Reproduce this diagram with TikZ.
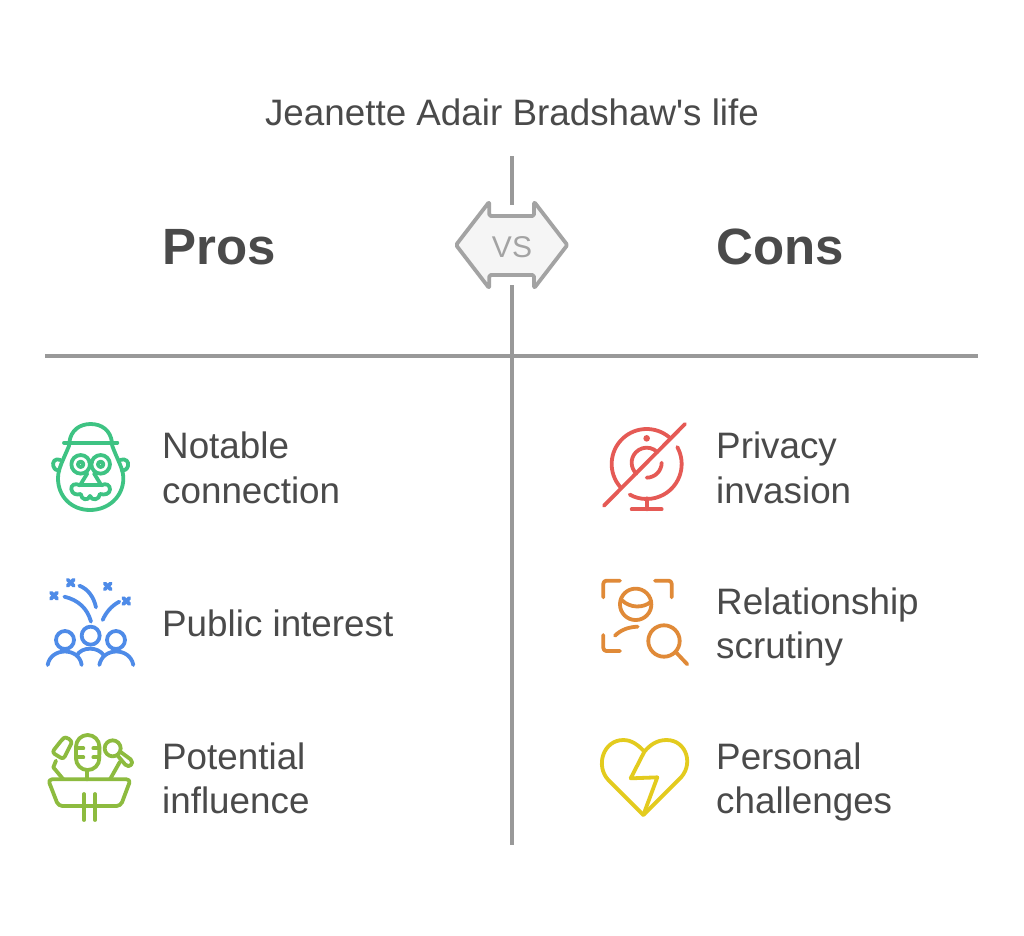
\documentclass[tikz,border=0pt]{standalone}
\usepackage{fontspec}
\setmainfont{Liberation Sans}[Ligatures=TeXOff]
\definecolor{ink}{HTML}{4A4A4A}
\definecolor{rule}{HTML}{999999}
\definecolor{vsline}{HTML}{A3A3A3}
\definecolor{vsfill}{HTML}{F5F5F5}
\definecolor{cgreen}{HTML}{3EC383}
\definecolor{cblue}{HTML}{4E8BE8}
\definecolor{clime}{HTML}{8DBB3F}
\definecolor{cred}{HTML}{E55A55}
\definecolor{corange}{HTML}{E08A38}
\definecolor{cyellow}{HTML}{E3CB1E}
\tikzset{
  label text/.style={text=ink,anchor=base west,inner sep=0pt,font=\fontsize{36.8}{37}\selectfont},
  head text/.style={text=ink,anchor=base west,inner sep=0pt,font=\fontsize{51}{51}\selectfont\bfseries},
  divider/.style={draw=rule,line width=3.2pt},
  icon/.style={line width=3.8pt,line cap=round,line join=round},
  zoomed/.style={x=0.3333pt,y=-0.3333pt},
}
\begin{document}
\begin{tikzpicture}[x=1pt,y=-1pt]
\useasboundingbox (0,0) rectangle (1024,935);
\fill[white] (0,0) rectangle (1024,935);
% dividers
\coordinate (vt) at (512,156);
\coordinate (vb) at (512,845);
\coordinate (hl) at (45,356);
\coordinate (hr) at (978,356);
\draw[divider] (vt) -- (512,205);
\draw[divider] (512,285) -- (vb);
\draw[divider] (hl) -- (hr);
% VS
\begin{scope}[shift={(440,190)},zoomed]
\draw[draw=vsline,fill=vsfill,line width=3.8pt,line join=round,rounded corners=1.5pt]
 (48,165) -- (148,35) -- (148,78) -- (282,78) -- (282,35) -- (382,165) -- (282,295) -- (282,255) -- (148,255) -- (148,295) -- cycle;
\end{scope}
\node[anchor=base,inner sep=0pt,text=vsline,font=\fontsize{30}{30}\selectfont] (vs) at (512,257) {VS};
% texts
\node[anchor=base,inner sep=0pt,text=ink,font=\fontsize{36.8}{37}\selectfont] (title) at (512,125) {Jeanette Adair Bradshaw's life};
\node[head text] (pros) at (162,264.5) {Pros};
\node[head text] (cons) at (716,264.5) {Cons};
\node[label text] (a1) at (162,458) {Notable};
\node[label text] (a2) at (162,503) {connection};
\node[label text] (b1) at (162,636) {Public interest};
\node[label text] (c1) at (162,769) {Potential};
\node[label text] (c2) at (162,813) {influence};
\node[label text] (d1) at (716,458) {Privacy};
\node[label text] (d2) at (716,503) {invasion};
\node[label text] (e1) at (716,614) {Relationship};
\node[label text] (e2) at (716,658) {scrutiny};
\node[label text] (f1) at (716,769) {Personal};
\node[label text] (f2) at (716,813) {challenges};
% green face
\begin{scope}[shift={(30,410)},zoomed]
\draw[cgreen,icon] (118,98) .. controls (122,60) and (150,42) .. (182,42) .. controls (214,42) and (242,60) .. (246,98);
\draw[cgreen,icon] (102,98) -- (262,98);
\draw[cgreen,icon] (118,105) .. controls (100,150) and (84,175) .. (84,205) .. controls (84,260) and (125,300) .. (180,300) .. controls (235,300) and (280,260) .. (280,205) .. controls (280,175) and (262,150) .. (246,105);
\draw[cgreen,icon] (92,150) .. controls (75,143) and (66,156) .. (70,168) .. controls (73,178) and (80,182) .. (88,182);
\draw[cgreen,icon] (270,150) .. controls (287,143) and (298,156) .. (294,168) .. controls (291,178) and (284,182) .. (276,182);
\draw[cgreen,icon] (152,163) circle[radius=9.3pt];
\draw[cgreen,icon] (212,163) circle[radius=9.3pt];
\draw[cgreen,icon] (152,163) circle[radius=2.7pt];
\draw[cgreen,icon] (212,163) circle[radius=2.7pt];
\draw[cgreen,icon] (178,156) -- (186,156);
\draw[cgreen,icon] (172,190) -- (150,226) .. controls (135,218) and (122,225) .. (124,238) .. controls (126,252) and (140,256) .. (152,252) .. controls (154,270) and (174,274) .. (180,258) .. controls (186,274) and (208,270) .. (210,252) .. controls (224,256) and (240,252) .. (240,238) .. controls (240,225) and (228,218) .. (214,226) -- (192,190);
\draw[cgreen,icon] (150,226) -- (214,226);
\end{scope}
% blue people
\begin{scope}[shift={(30,565)},zoomed]
\foreach \p in {(105,225),(182,212),(258,225)} \draw[cblue,icon] \p circle[radius=9pt];
\draw[cblue,icon] (53,300) .. controls (62,246) and (148,246) .. (155,300);
\draw[cblue,icon] (140,272) .. controls (155,244) and (205,244) .. (222,272);
\draw[cblue,icon] (208,300) .. controls (218,246) and (300,246) .. (310,300);
\draw[cblue,icon] (103,95) .. controls (145,105) and (172,130) .. (183,170);
\draw[cblue,icon] (148,62) .. controls (175,72) and (192,98) .. (198,127);
\draw[cblue,icon] (268,110) .. controls (245,122) and (228,142) .. (218,165);
\foreach \q in {(72,92),(122,53),(233,64),(289,108)} {
  \draw[cblue,icon] \q ++(-9,-9) -- ++(18,18);
  \draw[cblue,icon] \q ++(-9,9) -- ++(18,-18);
}
\end{scope}
% lime podium
\begin{scope}[shift={(30,720)},zoomed]
\draw[clime,icon,rounded corners=4pt] (54,178) -- (302,178) -- (272,258) -- (85,258) -- cycle;
\draw[clime,icon] (162,222) -- (162,300);
\draw[clime,icon] (195,222) -- (195,300);
\draw[clime,icon] (138,80) arc[start angle=180,end angle=0,radius=11.7pt] -- (208,115) arc[start angle=360,end angle=180,radius=11.7pt] -- cycle;
\draw[clime,icon] (172,150) -- (172,178);
\draw[clime,icon] (140,85) -- (160,85) (140,112) -- (160,112) (190,85) -- (208,85) (190,112) -- (208,112);
\draw[clime,icon,rounded corners=3pt] (66,97) -- (95,60) .. controls (108,48) and (128,62) .. (120,78) -- (100,118) -- cycle;
\draw[clime,icon] (78,122) -- (70,142) -- (100,178);
\draw[clime,icon] (248,85) circle[radius=8pt];
\draw[clime,icon] (272,96) -- (302,118) .. controls (314,130) and (298,146) .. (286,134) -- (264,108);
\draw[clime,icon] (270,125) -- (240,178);
\end{scope}
% red webcam
\begin{scope}[shift={(590,410)},zoomed]
\draw[cred,icon] (170,162) ++(222:35pt) arc[start angle=222,end angle=50,radius=35pt];
\draw[cred,icon] (170,162) ++(29:35pt) arc[start angle=29,end angle=-119,radius=35pt];
\draw[cred,icon] (42,287) -- (285,42);
\fill[cred] (170,85) circle[radius=3.3pt];
\draw[cred,icon] (170,158) ++(227:15pt) arc[start angle=227,end angle=45,radius=15pt];
\draw[cred,icon] (170,158) ++(0:15pt) arc[start angle=0,end angle=-90,radius=15pt];
\draw[cred,icon] (170,265) -- (170,298);
\draw[cred,icon] (125,298) -- (215,298);
\end{scope}
% orange scan
\begin{scope}[shift={(590,565)},zoomed]
\draw[corange,icon,rounded corners=3pt] (40,97) -- (40,47) -- (90,47);
\draw[corange,icon,rounded corners=3pt] (195,47) -- (245,47) -- (245,97);
\draw[corange,icon,rounded corners=3pt] (40,210) -- (40,258) -- (90,258);
\draw[corange,icon] (137,118) circle[radius=15.7pt];
\draw[corange,icon] (95,105) .. controls (120,130) and (160,130) .. (183,110);
\draw[corange,icon] (75,212) .. controls (92,195) and (115,186) .. (143,185);
\draw[corange,icon] (222,228) circle[radius=15.7pt];
\draw[corange,icon] (258,262) -- (292,298);
\end{scope}
% yellow heart
\begin{scope}[shift={(590,725)},zoomed]
\draw[cyellow,icon] (160,270) -- (55,165) .. controls (15,122) and (40,45) .. (100,45) .. controls (125,45) and (145,60) .. (163,80) .. controls (180,60) and (200,45) .. (230,45) .. controls (290,45) and (315,122) .. (265,165) -- cycle;
\draw[cyellow,icon] (163,80) -- (122,160) -- (202,157) -- (160,270);
\end{scope}
\end{tikzpicture}
\end{document}
